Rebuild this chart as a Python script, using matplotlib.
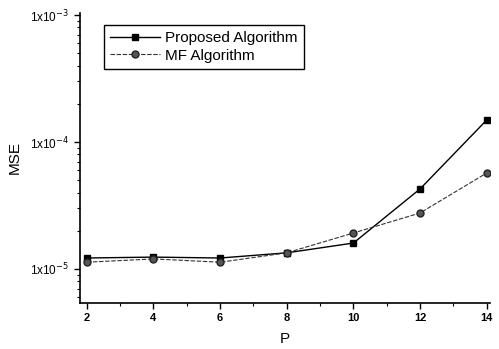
import numpy as np
import matplotlib.pyplot as plt
from matplotlib.ticker import FixedLocator, LogLocator, NullFormatter

plt.rcParams['font.family'] = ['Liberation Sans', 'DejaVu Sans']

# data
p = [2, 4, 6, 8, 10, 12, 14]
mse_proposed = [1.22e-5, 1.24e-5, 1.22e-5, 1.34e-5, 1.60e-5, 4.27e-5, 1.49e-4]
mse_mf = [1.13e-5, 1.20e-5, 1.13e-5, 1.34e-5, 1.92e-5, 2.76e-5, 5.7e-5]
xticks = [2, 4, 6, 8, 10, 12, 14]
yticks = [1e-5, 1e-4, 1e-3]
ytick_labels = ['1x10$^{-5}$', '1x10$^{-4}$', '1x10$^{-3}$']

fig = plt.figure(figsize=(4.99, 3.49), dpi=100)
ax = fig.add_axes([0.160, 0.132, 0.822, 0.831])

ax.plot(p, mse_proposed, '-', color='black', lw=1.0, marker='s', ms=4.5,
        mfc='black', mec='black', label='Proposed Algorithm')
ax.plot(p, mse_mf, linestyle=(0, (4, 1.5)), color='#333333', lw=0.8, marker='o', ms=5,
        mfc='#555555', mec='#222222', label='MF Algorithm')

ax.set_yscale('log')
ax.set_xlim(1.79, 14.1)
ax.set_ylim(5.4e-6, 1.04e-3)
ax.set_xticks(xticks)
ax.xaxis.set_minor_locator(FixedLocator([3, 5, 7, 9, 11, 13]))
ax.set_yticks(yticks)
ax.set_yticklabels(ytick_labels)
ax.yaxis.set_minor_locator(LogLocator(base=10, subs=np.arange(2, 10)))
ax.yaxis.set_minor_formatter(NullFormatter())

for s in ['top', 'right']:
    ax.spines[s].set_visible(False)
for s in ['left', 'bottom']:
    ax.spines[s].set_linewidth(1.2)

ax.tick_params(axis='both', which='major', direction='out', length=4, width=1, labelsize=8)
ax.tick_params(axis='both', which='minor', direction='out', length=2.5, width=0.8)
ax.tick_params(axis='y', labelsize=8.5)
for lab in ax.get_xticklabels():
    lab.set_fontweight('bold')

ax.set_xlabel('P', fontsize=11, labelpad=6)
ax.set_ylabel('MSE', fontsize=11, labelpad=6)

leg = ax.legend(loc='upper left', bbox_to_anchor=(0.04, 0.985), fontsize=11,
                frameon=True, fancybox=False, edgecolor='black', framealpha=1,
                handlelength=3.3, handletextpad=0.3, borderpad=0.4, labelspacing=0.25)
leg.get_frame().set_linewidth(1.0)

fig.savefig('out.png', dpi=100)
